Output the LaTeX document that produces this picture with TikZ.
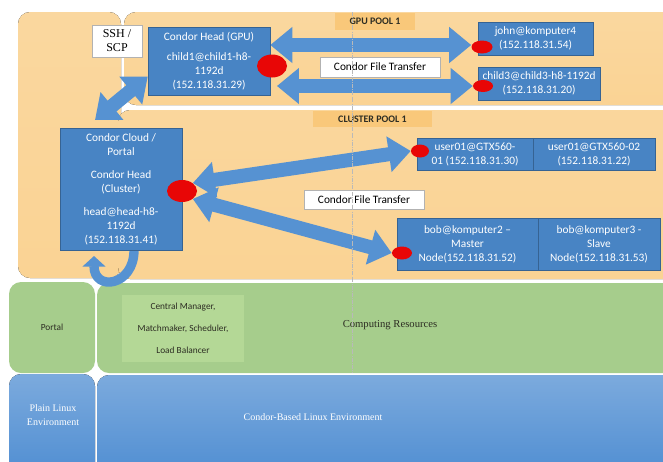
\documentclass[tikz,border=0pt]{standalone}
\usepackage{fontspec}
\setmainfont{Carlito}
\newfontfamily\timesfont{Liberation Serif}
\usepackage{xcolor}
\usetikzlibrary{positioning, calc, arrows.meta, shapes.geometric}
\definecolor{poolorange}{RGB}{250,211,148}
\definecolor{labelorange}{RGB}{249,200,122}
\definecolor{hostblue}{RGB}{72,132,196}
\definecolor{arrowblue}{RGB}{86,146,210}
\definecolor{dotred}{RGB}{232,6,6}
\definecolor{layergreen}{RGB}{166,205,140}
\definecolor{innergreen}{RGB}{180,216,150}
\definecolor{layerblue}{RGB}{80,142,210}
\definecolor{darktext}{RGB}{45,45,35}
\pgfdeclarelayer{back}
\pgfdeclarelayer{arrowlayer}
\pgfsetlayers{back,arrowlayer,main}

\tikzset{
    hostbox/.style={fill=hostblue, draw=hostblue!75!black, line width=0.4pt, text=white,
        align=center, inner sep=0pt, font=\fontsize{8.5}{10.5}\selectfont},
    notebox/.style={fill=white, draw=gray!60, line width=0.4pt, inner sep=0pt,
        font=\fontsize{8.5}{10}\selectfont},
    poollabel/.style={fill=labelorange, text=darktext, inner sep=0pt,
        font=\bfseries\fontsize{7.5}{9}\selectfont},
    reddot/.style={ellipse, fill=dotred, inner sep=0pt},
    biarrow/.style={draw=arrowblue, line width=10.5pt,
        {Triangle[length=16.5pt,width=26pt]}-{Triangle[length=16.5pt,width=26pt]}},
    turnarrow/.style={draw=arrowblue, line width=7pt, -{Triangle[length=8pt,width=17pt]}},
    layertext/.style={text=darktext, align=center, font=\fontsize{7}{16.5}\selectfont}
}

\begin{document}
\begin{tikzpicture}[x=0.75pt, y=-0.75pt]
    \clip (0,0) rectangle (663,461);

    \begin{pgfonlayer}{back}
    \fill[white] (0,0) rectangle (663,461);
    % Pool panels
    \fill[top color=poolorange!90!white, bottom color=poolorange, rounded corners=9pt] (18,12) rectangle (121,278);
    \fill[top color=poolorange!90!white, bottom color=poolorange, rounded corners=9pt] (124,12) rectangle (675,105);
    \fill[top color=poolorange!92!white, bottom color=poolorange, rounded corners=9pt] (118,110) rectangle (675,279);
    % Layers
    \fill[layergreen, rounded corners=9pt] (9,282) rectangle (95,373);
    \fill[layergreen, rounded corners=9pt] (97,283) rectangle (675,373);
    \fill[innergreen] (122,295) rectangle (244,362);
    \fill[top color=layerblue!75!white, bottom color=layerblue, rounded corners=9pt] (9,374) rectangle (95,475);
    \fill[top color=layerblue!75!white, bottom color=layerblue, rounded corners=9pt] (97,375) rectangle (675,475);
    \end{pgfonlayer}

    \node[layertext] (portal) at (52,327) {Portal};
    \node[layertext] (central) at (183,328) {Central Manager,\\Matchmaker, Scheduler,\\Load Balancer};
    \node[text=darktext, font=\timesfont\fontsize{8}{9}\selectfont] (computing) at (390,325) {Computing Resources};
    \node[text=white, align=center, font=\timesfont\fontsize{7.5}{10.5}\selectfont] (plainlinux) at (53,415) {Plain Linux\\Environment};
    \node[text=white, font=\timesfont\fontsize{7.5}{9}\selectfont] (condorenv) at (313,417) {Condor-Based Linux Environment};

    % GPU pool
    \node[poollabel, minimum width=60pt, minimum height=12.75pt] (gpulabel) at (375,21.5) {GPU POOL 1};
    \node[hostbox, minimum width=91.5pt, minimum height=51pt] (gpuhead) at (209,61)
        {Condor Head (GPU)\\[4.5pt]child1@child1-h8-\\1192d\\(152.118.31.29)};
    \node[hostbox, minimum width=86.25pt, minimum height=24.75pt] (john) at (535.5,38.5)
        {john@komputer4\\(152.118.31.54)};
    \node[hostbox, minimum width=91.5pt, minimum height=24.75pt] (child3) at (539,83.5)
        {child3@child3-h8-1192d\\(152.118.31.20)};
    \node[notebox, align=center, font=\timesfont\fontsize{9}{10.5}\selectfont,
        minimum width=37.5pt, minimum height=24pt] (ssh) at (117,41) {SSH /\\SCP};

    % Cluster pool
    \node[poollabel, minimum width=89.25pt, minimum height=12pt] (clusterlabel) at (372.5,119) {CLUSTER POOL 1};
    \node[hostbox, minimum width=91.5pt, minimum height=91.5pt] (headbox) at (121,189)
        {Condor Cloud /\\Portal\\[6.75pt]Condor Head\\(Cluster)\\[6.75pt]head@head-h8-\\1192d\\(152.118.31.41)};
    \node[hostbox, minimum width=87pt, minimum height=24pt] (user1) at (475,154)
        {user01@GTX560-\\01 (152.118.31.30)};
    \node[hostbox, minimum width=91.5pt, minimum height=24pt] (user2) at (594,154)
        {user01@GTX560-02\\(152.118.31.22)};
    \node[hostbox, minimum width=105.75pt, minimum height=39pt] (bob2) at (467.5,244)
        {bob@komputer2 --\\Master\\Node(152.118.31.52)};
    \node[hostbox, minimum width=91.5pt, minimum height=39pt] (bob3) at (599,244)
        {bob@komputer3 -\\Slave\\Node(152.118.31.53)};

    % Red dots
    \node[reddot, minimum width=22.5pt, minimum height=17.25pt] (gdot) at (272,66) {};
    \node[reddot, minimum width=15.75pt, minimum height=9.75pt] (jdot) at (482,47) {};
    \node[reddot, minimum width=15pt, minimum height=9pt] (c3dot) at (483,86) {};
    \node[reddot, minimum width=22.5pt, minimum height=16.5pt] (headdot) at (182,191) {};
    \node[reddot, minimum width=13.5pt, minimum height=9.75pt] (udot) at (420,151) {};
    \node[reddot, minimum width=15pt, minimum height=9.75pt] (bdot) at (402,253) {};

    % Transfer arrows
    \coordinate (sshend) at (95,120);
    \coordinate (turnend) at (94,256);
    \begin{pgfonlayer}{arrowlayer}
    \draw[biarrow] (gpuhead.east |- 0,45) -- (jdot.west |- 0,45);
    \draw[biarrow] ([xshift=5pt]gpuhead.east |- c3dot) -- (c3dot.west);
    \draw[biarrow] (headdot.north east) -- (udot.west);
    \draw[biarrow] (headdot.south east) -- (bdot.west);
    \draw[biarrow] (sshend) -- ([yshift=14pt]gpuhead.south west);
    \draw[turnarrow] ([xshift=9.75pt]headbox.south) .. controls +(0,36) and +(0,36) .. (turnend);
    \end{pgfonlayer}

    \node[notebox, minimum width=90pt, minimum height=15pt] (gpufile) at (380,67) {Condor File Transfer};
    \node[notebox, minimum width=90pt, minimum height=14.25pt] (clusterfile) at (364,199.5) {Condor File Transfer};

    % Split line
    \draw[gray!55, densely dashdotted, line width=0.6pt] (352,12) -- (352,373);
\end{tikzpicture}
\end{document}
